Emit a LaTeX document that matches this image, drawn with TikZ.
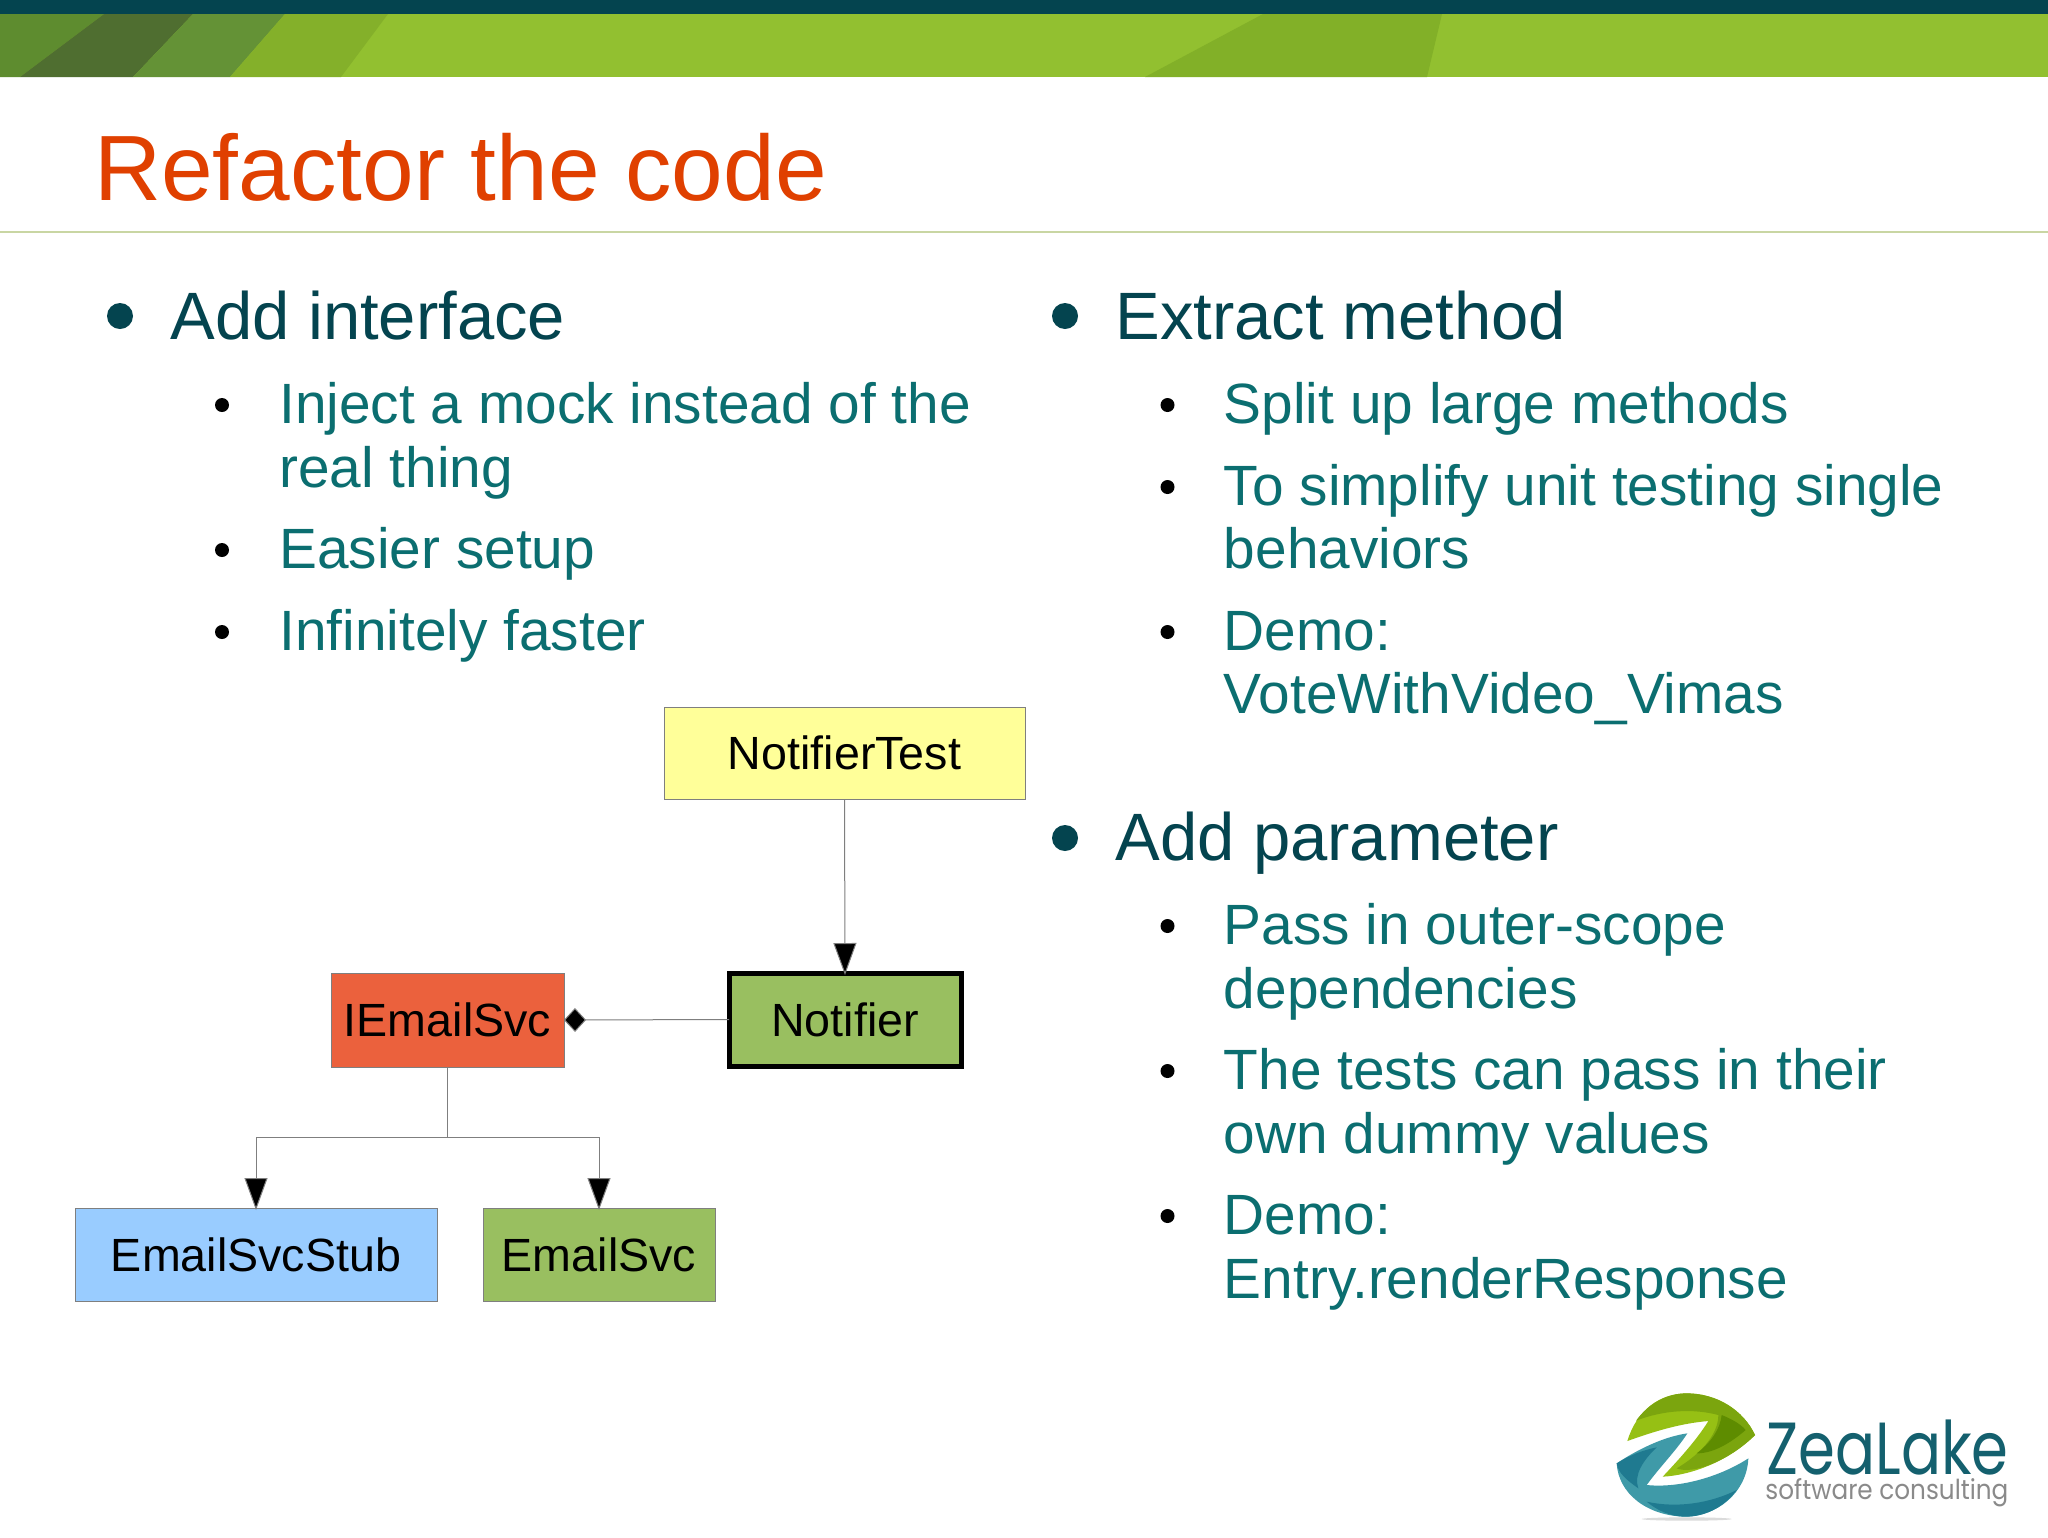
\documentclass[tikz,border=0pt]{standalone}
\usepackage{fontspec}
\setmainfont{Liberation Sans}
\newfontfamily\logofont{Poppins}
\usetikzlibrary{arrows.meta,calc}
\definecolor{barDark}{HTML}{04444F}
\definecolor{bandGreen}{HTML}{92C030}
\definecolor{stripeA}{HTML}{5E8C2F}
\definecolor{stripeB}{HTML}{4F6E30}
\definecolor{stripeC}{HTML}{649236}
\definecolor{stripeD}{HTML}{84B02A}
\definecolor{stripeE}{HTML}{82B028}
\definecolor{ruleTint}{HTML}{C9D6A3}
\definecolor{titleRed}{HTML}{E04000}
\definecolor{lvlOne}{HTML}{04444F}
\definecolor{lvlTwo}{HTML}{0B6E70}
\definecolor{boxEdge}{HTML}{7F7F7F}
\definecolor{fillYellow}{HTML}{FFFF99}
\definecolor{fillGreen}{HTML}{99BF60}
\definecolor{fillRed}{HTML}{EB613D}
\definecolor{fillBlue}{HTML}{99CCFF}
\definecolor{logoA}{HTML}{96C014}
\definecolor{logoB}{HTML}{7BA50E}
\definecolor{logoC}{HTML}{5E8C00}
\definecolor{logoD}{HTML}{3F9AA8}
\definecolor{logoE}{HTML}{1F7A90}
\definecolor{logoText}{HTML}{14606E}
\definecolor{logoGray}{HTML}{8A8A8A}
\tikzset{
  x=0.5pt,y=-0.5pt,
  lineone/.style={anchor=base west,inner sep=0pt,text=lvlOne,font=\fontsize{33.5}{38}\selectfont},
  linetwo/.style={anchor=base west,inner sep=0pt,text=lvlTwo,font=\fontsize{28.4}{32}\selectfont},
  dotone/.style={circle,fill=lvlOne,inner sep=0pt,minimum size=13pt},
  dottwo/.style={circle,fill=black,inner sep=0pt,minimum size=7pt},
  umlbox/.style={draw=boxEdge,line width=0.5pt,inner sep=0pt,outer sep=0pt,text=black,font=\fontsize{23.3}{28}\selectfont},
  conn/.style={draw=boxEdge,line width=0.5pt},
  tip/.style={-{Triangle[length=16pt,width=11.5pt,fill=black]},shorten >=-1pt},
  diatip/.style={{Diamond[length=11pt,width=12pt,fill=black]}-},
}
\begin{document}
\begin{tikzpicture}
\path[use as bounding box,fill=white] (0,0) rectangle (2048,1537);
% header band
\fill[bandGreen] (0,14) rectangle (2048,77);
\fill[stripeA] (0,14) -- (104,14) -- (20,77) -- (0,77) -- cycle;
\fill[stripeB] (104,14) -- (193,14) -- (133,77) -- (20,77) -- cycle;
\fill[stripeC] (193,14) -- (285,14) -- (230,77) -- (133,77) -- cycle;
\fill[stripeD] (285,14) -- (388,14) -- (341,77) -- (230,77) -- cycle;
\fill[stripeE] (1263,14) -- (1442,14) -- (1427,77) -- (1145,77) -- cycle;
\fill[barDark] (0,0) rectangle (2048,14);
\fill[ruleTint] (0,231) rectangle (2048,233);
% title
\node[anchor=base west,inner sep=0pt,text=titleRed,font=\fontsize{46.4}{52}\selectfont] (title) at (94,200) {Refactor the code};
% left column
\node[dotone] (d1) at (120,316) {};
\node[lineone] (t1) at (170,339) {Add interface};
\node[dottwo] (d2) at (222,405) {};
\node[linetwo] (t2) at (279,423) {Inject a mock instead of the};
\node[linetwo] (t3) at (279,487) {real thing};
\node[dottwo] (d3) at (222,550) {};
\node[linetwo] (t4) at (279,568) {Easier setup};
\node[dottwo] (d4) at (222,632) {};
\node[linetwo] (t5) at (279,650) {Infinitely faster};
% right column
\node[dotone] (d5) at (1065,316) {};
\node[lineone] (t6) at (1115,339) {Extract method};
\node[dottwo] (d6) at (1167.5,405) {};
\node[linetwo] (t7) at (1223.5,423) {Split up large methods};
\node[dottwo] (d7) at (1167.5,487) {};
\node[linetwo] (t8) at (1223.5,505) {To simplify unit testing single};
\node[linetwo] (t9) at (1223.5,568) {behaviors};
\node[dottwo] (d8) at (1167.5,632) {};
\node[linetwo] (t10) at (1223.5,650) {Demo:};
\node[linetwo] (t11) at (1223.5,713) {VoteWithVideo\_Vimas};
\node[dotone] (d9) at (1065,838) {};
\node[lineone] (t12) at (1115,860) {Add parameter};
\node[dottwo] (d10) at (1167.5,926) {};
\node[linetwo] (t13) at (1223.5,944) {Pass in outer-scope};
\node[linetwo] (t14) at (1223.5,1008) {dependencies};
\node[dottwo] (d11) at (1167.5,1071) {};
\node[linetwo] (t15) at (1223.5,1089) {The tests can pass in their};
\node[linetwo] (t16) at (1223.5,1153) {own dummy values};
\node[dottwo] (d12) at (1167.5,1216) {};
\node[linetwo] (t17) at (1223.5,1234) {Demo:};
\node[linetwo] (t18) at (1223.5,1298) {Entry.renderResponse};
% UML
\node[umlbox,fill=fillYellow,minimum width=180.5pt,minimum height=46pt] (test) at (844.5,753) {NotifierTest};
\node[umlbox,fill=fillGreen,draw=black,line width=2.5pt,minimum width=116pt,minimum height=46.5pt] (notifier) at (845,1019.5) {Notifier};
\node[umlbox,fill=fillRed,minimum width=116.5pt,minimum height=47pt] (iface) at (447.5,1020) {IEmailSvc};
\node[umlbox,fill=fillBlue,minimum width=181pt,minimum height=46.5pt] (stub) at (256,1254.5) {EmailSvcStub};
\node[umlbox,fill=fillGreen,minimum width=116pt,minimum height=46.5pt] (svc) at (599,1254.5) {EmailSvc};
\coordinate (fork) at (447.5,1137);
\draw[conn,tip] (test.south) -- (notifier.north);
\draw[conn,diatip] (iface.east) -- (notifier.west);
\draw[conn] (iface.south) -- (fork);
\draw[conn,tip] (fork) -| (stub.north);
\draw[conn,tip] (fork) -| (svc.north);
% logo
\begin{scope}[shift={(1580,1360)},x=0.16667pt,y=-0.16667pt]
\fill[black!14] (320,477) ellipse [x radius=135,y radius=5];
\fill[logoD] (110,310) .. controls (170,270) and (250,230) .. (322,220)
  .. controls (290,270) and (240,320) .. (200,375)
  .. controls (300,385) and (420,350) .. (505,295)
  .. controls (500,400) and (410,468) .. (317,470)
  .. controls (200,468) and (115,400) .. (110,310) -- cycle;
\fill[logoE] (110,310) .. controls (150,285) and (190,270) .. (230,262)
  .. controls (190,300) and (160,345) .. (175,385)
  .. controls (140,360) and (115,340) .. (110,310) -- cycle;
\fill[logoE] (200,425) .. controls (290,445) and (390,430) .. (470,390)
  .. controls (430,445) and (370,470) .. (317,470)
  .. controls (270,470) and (230,450) .. (200,425) -- cycle;
\fill[logoA] (142,243) .. controls (170,150) and (240,100) .. (320,100)
  .. controls (410,100) and (490,150) .. (525,225)
  .. controls (450,300) and (340,345) .. (248,350)
  .. controls (295,300) and (350,240) .. (385,183)
  .. controls (300,190) and (220,215) .. (142,243) -- cycle;
\fill[logoB] (168,182) .. controls (210,125) and (265,100) .. (320,100)
  .. controls (410,100) and (490,150) .. (525,225)
  .. controls (450,300) and (340,345) .. (290,325)
  .. controls (350,290) and (415,230) .. (415,165)
  .. controls (340,145) and (250,150) .. (168,182) -- cycle;
\fill[logoC] (425,165) .. controls (450,175) and (480,190) .. (497,210)
  .. controls (450,250) and (400,280) .. (350,280)
  .. controls (390,250) and (420,210) .. (425,165) -- cycle;
\node[anchor=base west,inner sep=0pt,text=logoText,font=\logofont] (brand) at (558,342) {\resizebox{121pt}{27.3pt}{ZeaLake}};
\node[anchor=base west,inner sep=0pt,text=logoGray,font=\logofont] (tag) at (555,417) {\resizebox{121.5pt}{10.5pt}{software consulting}};
\end{scope}
\end{tikzpicture}
\end{document}
